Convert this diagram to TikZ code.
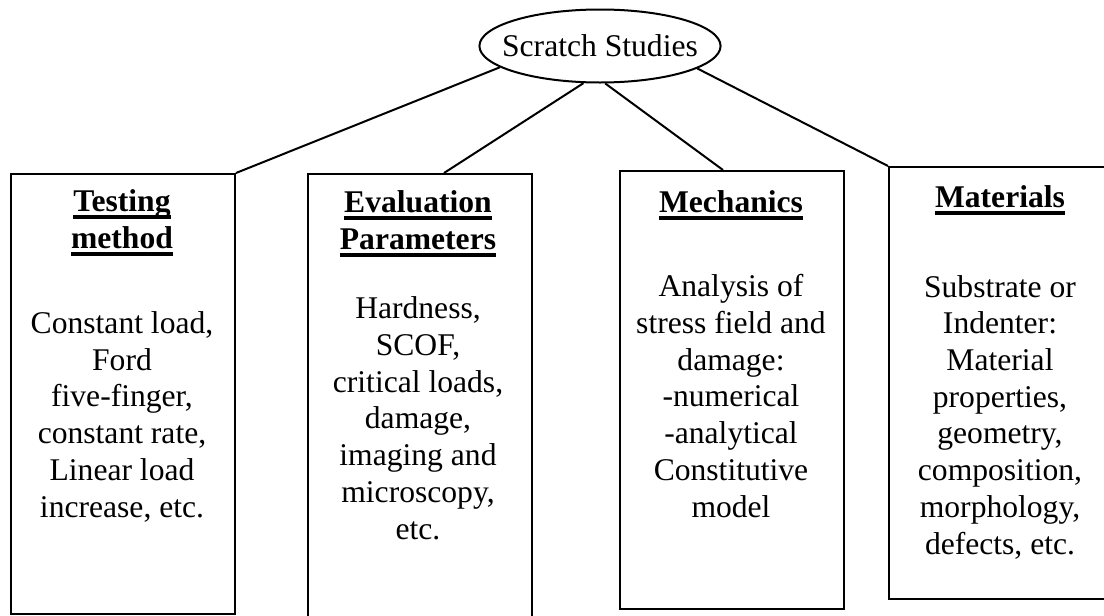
\documentclass[tikz,border=0pt]{standalone}
\usepackage{fontspec}
\setmainfont{Liberation Serif}
\usetikzlibrary{shapes.geometric,positioning}
\newcommand{\ulhead}[1]{\setbox0\hbox{\bfseries #1}\rlap{\rule[-3.8pt]{\wd0}{1.8pt}}\box0}

\begin{document}
\begin{tikzpicture}[x=0.5pt, y=-0.5pt]
		\tikzstyle{every node}=[font=\fontsize{15.8}{18.35}\selectfont]
		\tikzstyle{panel}=[draw, line width=1pt, minimum width=112pt, inner sep=0pt, anchor=north west]
		\tikzstyle{txt}=[align=center, anchor=base, inner sep=0pt]
		\useasboundingbox (0,0) rectangle (1104,616);
		\node [draw, ellipse, line width=1pt, inner xsep=-6.3pt, inner ysep=0pt, minimum height=36.5pt] (scratch) at (600,46) {Scratch Studies};
		\node [panel, minimum height=220pt] (testing) at (10,173) {};
		\node [panel, minimum height=229pt] (evaluation) at (307,173) {};
		\node [panel, minimum height=219pt] (mechanics) at (619,170) {};
		\node [panel, minimum height=216pt] (materials) at (888,166) {};
		\draw [line width=1pt] (scratch.192) -- (testing.north east);
		\draw [line width=1pt] (scratch.246) -- ([xshift=12pt]evaluation.north);
		\draw [line width=1pt] (scratch.278) -- ([xshift=-4.5pt]mechanics.north);
		\draw [line width=1pt] (scratch.347) -- (materials.north west);
		% anchor=base sits on the last line
		\node [txt] (testingT) at (122,248) {\ulhead{Testing}\\ \ulhead{method}};
		\node [txt] (testingB) at (122,517) {Constant load,\\ Ford\\ five-finger,\\ constant rate,\\ Linear load\\ increase, etc.};
		\node [txt] (evaluationT) at (418,249) {\ulhead{Evaluation}\\ \ulhead{Parameters}};
		\node [txt] (evaluationB) at (418,539) {Hardness,\\ SCOF,\\ critical loads,\\ damage,\\ imaging and\\ microscopy,\\ etc.};
		\node [txt] (mechanicsT) at (731,212) {\ulhead{Mechanics}};
		\node [txt] (mechanicsB) at (731,517) {Analysis of\\ stress field and\\ damage:\\ -numerical\\ -analytical\\ Constitutive\\ model};
		\node [txt] (materialsT) at (1000,207) {\ulhead{Materials}};
		\node [txt] (materialsB) at (1000,554) {Substrate or\\ Indenter:\\ Material\\ properties,\\ geometry,\\ composition,\\ morphology,\\ defects, etc.};
\end{tikzpicture}
\end{document}
